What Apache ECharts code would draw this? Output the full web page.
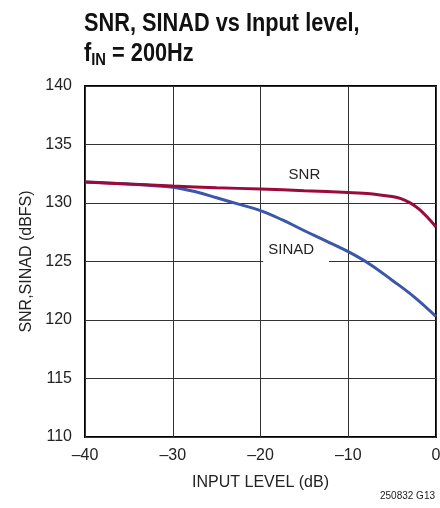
<!DOCTYPE html>
<html><head><meta charset="utf-8">
<script src="https://cdn.jsdelivr.net/npm/echarts@6/dist/echarts.min.js"></script>
<style>html,body{margin:0;padding:0;background:#fff}#c{width:440px;height:508px}</style>
</head><body><div id="c"></div>
<script>
const snrX =   [-40, -35, -30, -25, -20, -15, -10, -7.5, -5, -4, -3, -2, -1, 0];
const snr =    [131.8, 131.62, 131.45, 131.3, 131.2, 131.05, 130.9, 130.8, 130.55, 130.38, 130.03, 129.52, 128.8, 127.95];
const sinadX = [-40, -37.5, -35, -32.5, -30, -27.5, -25, -22.5, -20, -17.5, -15, -12.5, -10, -7.5, -5, -2.5, 0];
const sinad =  [131.8, 131.72, 131.62, 131.5, 131.35, 130.98, 130.45, 129.9, 129.35, 128.55, 127.63, 126.75, 125.84, 124.75, 123.4, 121.98, 120.3];
const xTicks = [-40, -30, -20, -10, 0];
const yTicks = [110, 115, 120, 125, 130, 135, 140];
const labelSNR = {text: 'SNR', x: -15, y: 132.4};
const labelSINAD = {text: 'SINAD', x: -16.5, y: 126.0};
const labelSINADGap = [[-19.7, 124.9], [-12.2, 125.1]];

const font = 'Arial, "Liberation Sans", Helvetica, sans-serif';
const chart = echarts.init(document.getElementById('c'), null, {renderer: 'canvas'});
chart.setOption({
  animation: false,
  backgroundColor: '#fff',
  graphic: [
    {
      type: 'text', left: 84, top: 9, scaleX: 0.87,
      style: {
        text: 'SNR, SINAD vs Input level,\n{b|f}{s|IN}{b| = 200Hz}',
        fontFamily: font, fontWeight: 'bold', fontSize: 25, fill: '#111', lineHeight: 30,
        rich: {
          b: {fontFamily: font, fontWeight: 'bold', fontSize: 25, fill: '#111', lineHeight: 30},
          s: {fontFamily: font, fontWeight: 'bold', fontSize: 17, fill: '#111', verticalAlign: 'bottom', lineHeight: 30}
        }
      }
    },
    {
      type: 'text', right: 5, top: 491,
      style: {text: '250832 G13', fontFamily: font, fontSize: 10, fill: '#222'}
    }
  ],
  grid: {left: 85, right: 4, top: 86, bottom: 71, show: true, borderColor: '#000', borderWidth: 2, outerBoundsMode: 'none', containLabel: false},
  xAxis: {
    type: 'value', min: -40, max: 0, interval: 10,
    name: 'INPUT LEVEL (dB)', nameLocation: 'middle', nameGap: 38,
    nameTextStyle: {fontFamily: font, fontSize: 16, color: '#222'},
    axisLine: {show: false}, axisTick: {show: false},
    axisLabel: {fontFamily: font, fontSize: 16, color: '#222', margin: 11,
      formatter: v => xTicks.includes(v) ? String(v).replace('-', '\u2013') : ''},
    splitLine: {show: true, lineStyle: {color: '#333', width: 1}}
  },
  yAxis: {
    type: 'value', min: 110, max: 140, interval: 5,
    name: 'SNR,SINAD (dBFS)', nameLocation: 'middle', nameGap: 46, nameRotate: 90,
    nameTextStyle: {fontFamily: font, fontSize: 16, color: '#222'},
    axisLine: {show: false}, axisTick: {show: false},
    axisLabel: {fontFamily: font, fontSize: 16, color: '#222', margin: 13,
      formatter: v => yTicks.includes(v) ? String(v) : ''},
    splitLine: {show: true, lineStyle: {color: '#333', width: 1}}
  },
  series: [
    {
      name: 'labels', type: 'line', data: [], z: 2, silent: true,
      markArea: {
        silent: true,
        itemStyle: {color: '#fff', borderWidth: 0},
        data: [[{coord: labelSINADGap[0]}, {coord: labelSINADGap[1]}]]
      },
      markPoint: {
        symbol: 'rect', symbolSize: 0, silent: true,
        data: [
          {coord: [labelSINAD.x, labelSINAD.y], value: labelSINAD.text, label: {formatter: labelSINAD.text}},
          {coord: [labelSNR.x, labelSNR.y], value: labelSNR.text, label: {formatter: labelSNR.text}}
        ],
        label: {show: true, position: 'inside', fontFamily: font, fontSize: 15, color: '#222'}
      }
    },
    {
      name: 'SINAD', type: 'line', smooth: 0.4, symbol: 'none',
      data: sinadX.map((x, i) => [x, sinad[i]]),
      lineStyle: {color: '#3b56aa', width: 3},
      z: 3
    },
    {
      name: 'SNR', type: 'line', smooth: 0.3, symbol: 'none',
      data: snrX.map((x, i) => [x, snr[i]]),
      lineStyle: {color: '#9a0b3b', width: 3},
      z: 4
    }
  ]
});
</script></body></html>
